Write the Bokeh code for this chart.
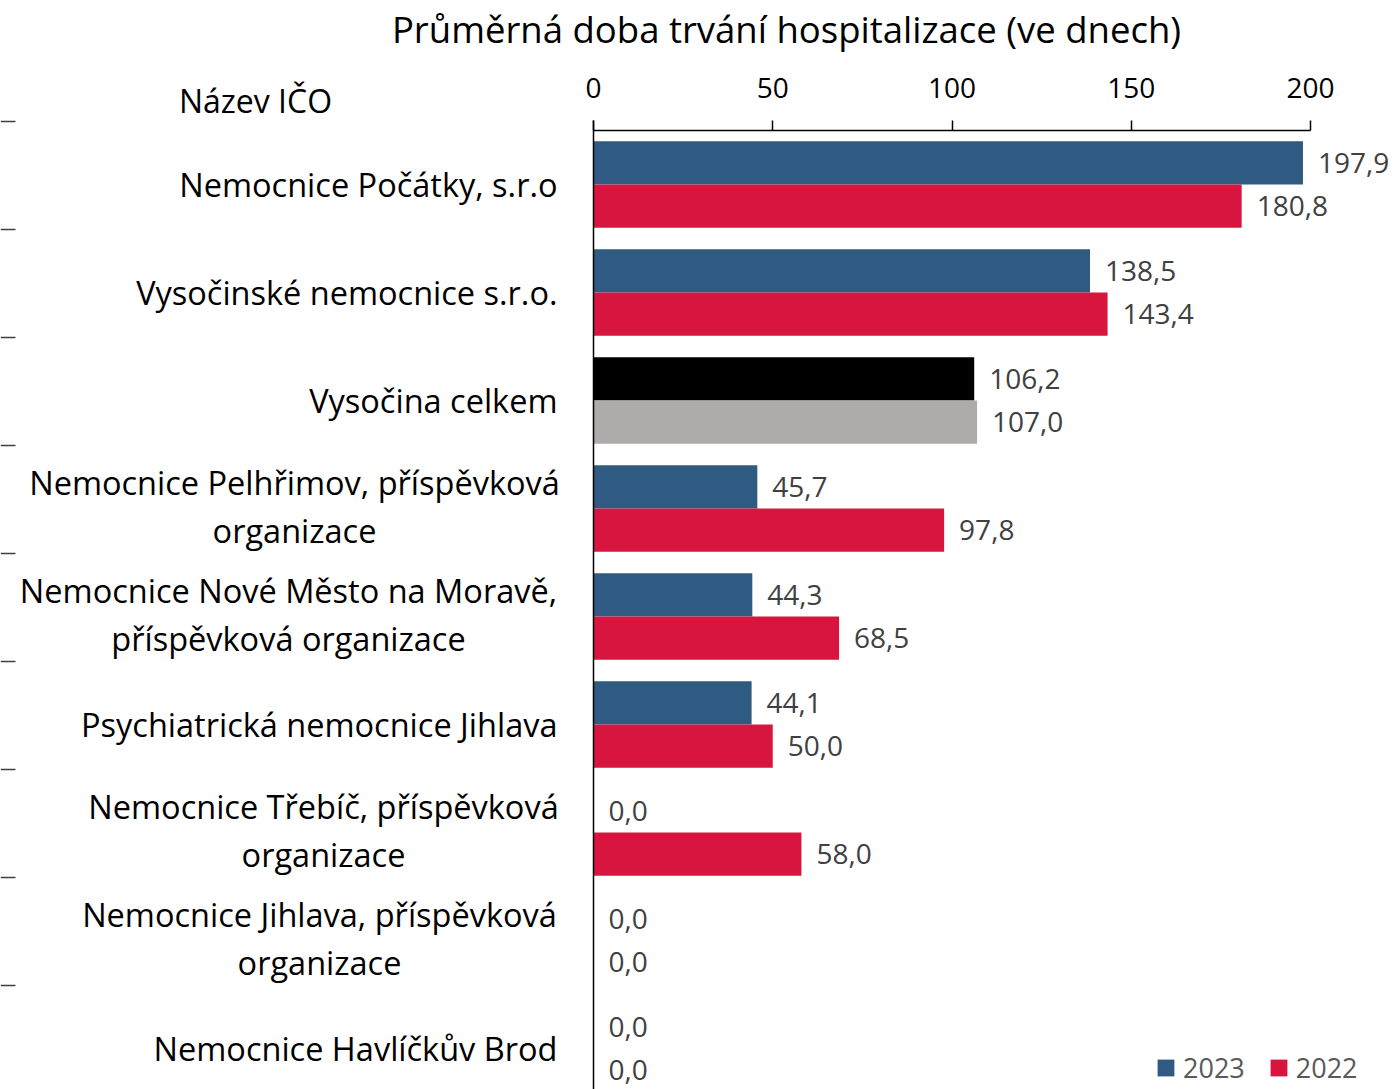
from bokeh.plotting import figure
from bokeh.models import (ColumnDataSource, Range1d, FixedTicker, Legend, LegendItem)
from bokeh.core.properties import value
from bokeh.embed import file_html
from bokeh.resources import INLINE

# ---------------- data ----------------
categories = [
    "Nemocnice Počátky, s.r.o",
    "Vysočinské nemocnice s.r.o.",
    "Vysočina celkem",
    "Nemocnice Pelhřimov, příspěvková\norganizace",
    "Nemocnice Nové Město na Moravě,\npříspěvková organizace",
    "Psychiatrická nemocnice Jihlava",
    "Nemocnice Třebíč, příspěvková\norganizace",
    "Nemocnice Jihlava, příspěvková\norganizace",
    "Nemocnice Havlíčkův Brod",
]
v2023 = [197.9, 138.5, 106.2, 45.7, 44.3, 44.1, 0.0, 0.0, 0.0]
v2022 = [180.8, 143.4, 107.0, 97.8, 68.5, 50.0, 58.0, 0.0, 0.0]
series_names = ["2023", "2022"]
x_ticks = [0, 50, 100, 150, 200]
title_text = "Průměrná doba trvání hospitalizace (ve dnech)"
header_text = "Název IČO"

# ---------------- layout constants ----------------
FONT = "Open Sans"
FIG_W, FIG_H = 1393, 1089
X_ZERO = 593           # px of value 0
PX_PER = 717 / 200.0   # px per unit
AXIS_Y = 130           # px of the value axis line
ROW = 108.0


def xd(px):
    return (px - X_ZERO) / PX_PER


def yd(py):
    return -0.5 + (py - AXIS_Y) / ROW


BLUE, RED, BLACK, GRAY = "#2F5A82", "#D8153F", "#000000", "#AFABAB"
n = len(categories)
rows = list(range(n))
total_idx = categories.index("Vysočina celkem")

c23 = [BLACK if i == total_idx else BLUE for i in rows]
c22 = [GRAY if i == total_idx else RED for i in rows]

fmt = lambda v: f"{v:.1f}".replace(".", ",")

src23 = ColumnDataSource(dict(y=[i - 0.2 for i in rows], v=v2023, c=c23,
                              t=[fmt(v) for v in v2023]))
src22 = ColumnDataSource(dict(y=[i + 0.2 for i in rows], v=v2022, c=c22,
                              t=[fmt(v) for v in v2022]))

p = figure(width=FIG_W, height=FIG_H, output_backend="svg", toolbar_location=None,
           x_range=Range1d(xd(0), xd(FIG_W)),
           y_range=Range1d(yd(FIG_H), yd(0)),
           x_axis_location="above", y_axis_location=None,
           title=None, min_border_left=0, min_border_right=0,
           min_border_bottom=0, min_border_top=0)
p.outline_line_color = None
p.grid.visible = False
p.background_fill_color = "white"

r23 = p.hbar(y="y", left=0, right="v", height=0.4, fill_color="c", line_color=None, source=src23)
r22 = p.hbar(y="y", left=0, right="v", height=0.4, fill_color="c", line_color=None, source=src22)

# value labels
for s in (src23, src22):
    p.text(x="v", y="y", text="t", source=s, x_offset=15, text_align="left",
           text_baseline="middle", text_font=value(FONT), text_font_size="28px",
           text_color="#404040")

# value axis, drawn at a fixed location inside the plotting area
ax = p.xaxis[0]
ax.fixed_location = yd(AXIS_Y)
ax.ticker = FixedTicker(ticks=x_ticks)
ax.bounds = (0, 200)
ax.axis_line_color = "#000000"
ax.axis_line_width = 1.5
ax.major_tick_line_color = "#000000"
ax.major_tick_line_width = 1.5
ax.major_tick_out = 10
ax.major_tick_in = 0
ax.minor_tick_out = 0
ax.minor_tick_in = 0
ax.major_label_text_font = FONT
ax.major_label_text_font_size = "28px"
ax.major_label_text_color = "#000000"
ax.major_label_standoff = 23

# vertical category axis line at 0
p.segment(x0=[0], x1=[0], y0=[yd(120)], y1=[yd(FIG_H)], line_color="#000000", line_width=1.5)

# category labels
single = [i for i in rows if "\n" not in categories[i]]
multi = [i for i in rows if "\n" in categories[i]]
multi_centers = {3: 294, 4: 288, 6: 323, 7: 319}
p.text(x=[xd(557)] * len(single), y=[float(i) for i in single],
       text=[categories[i] for i in single], text_align="right", text_baseline="middle",
       text_font=value(FONT), text_font_size="32.5px", text_color="#000000")
p.text(x=[xd(multi_centers[i]) for i in multi], y=[i - 2 / ROW for i in multi],
       text=[categories[i] for i in multi], text_align="center", text_baseline="middle",
       text_font=value(FONT), text_font_size="32.5px", text_color="#000000",
       text_line_height=1.06)

# left separator ticks
sep_y = [i - 0.5 - 9 / ROW for i in rows]
p.segment(x0=[xd(0)] * n, x1=[xd(15)] * n, y0=sep_y, y1=sep_y,
          line_color="#404040", line_width=1.5)

# header + title
p.text(x=[xd(255)], y=[yd(100)], text=[header_text], text_align="center",
       text_baseline="middle", text_font=value(FONT), text_font_size="32px",
       text_color="#000000")
p.text(x=[xd(786)], y=[yd(28)], text=[title_text], text_align="center",
       text_baseline="middle", text_font=value(FONT), text_font_size="36.5px",
       text_color="#000000")

legend = Legend(items=[LegendItem(label=series_names[0], renderers=[r23], index=0),
                       LegendItem(label=series_names[1], renderers=[r22], index=0)],
                orientation="horizontal", location=(1155, 3),
                glyph_width=21, glyph_height=21, label_standoff=7, spacing=23,
                padding=0, margin=0, border_line_color=None, background_fill_alpha=0,
                label_text_font=FONT, label_text_font_size="27px",
                label_text_color="#595959")
p.add_layout(legend)

open("out.html", "w").write(file_html(p, INLINE))
